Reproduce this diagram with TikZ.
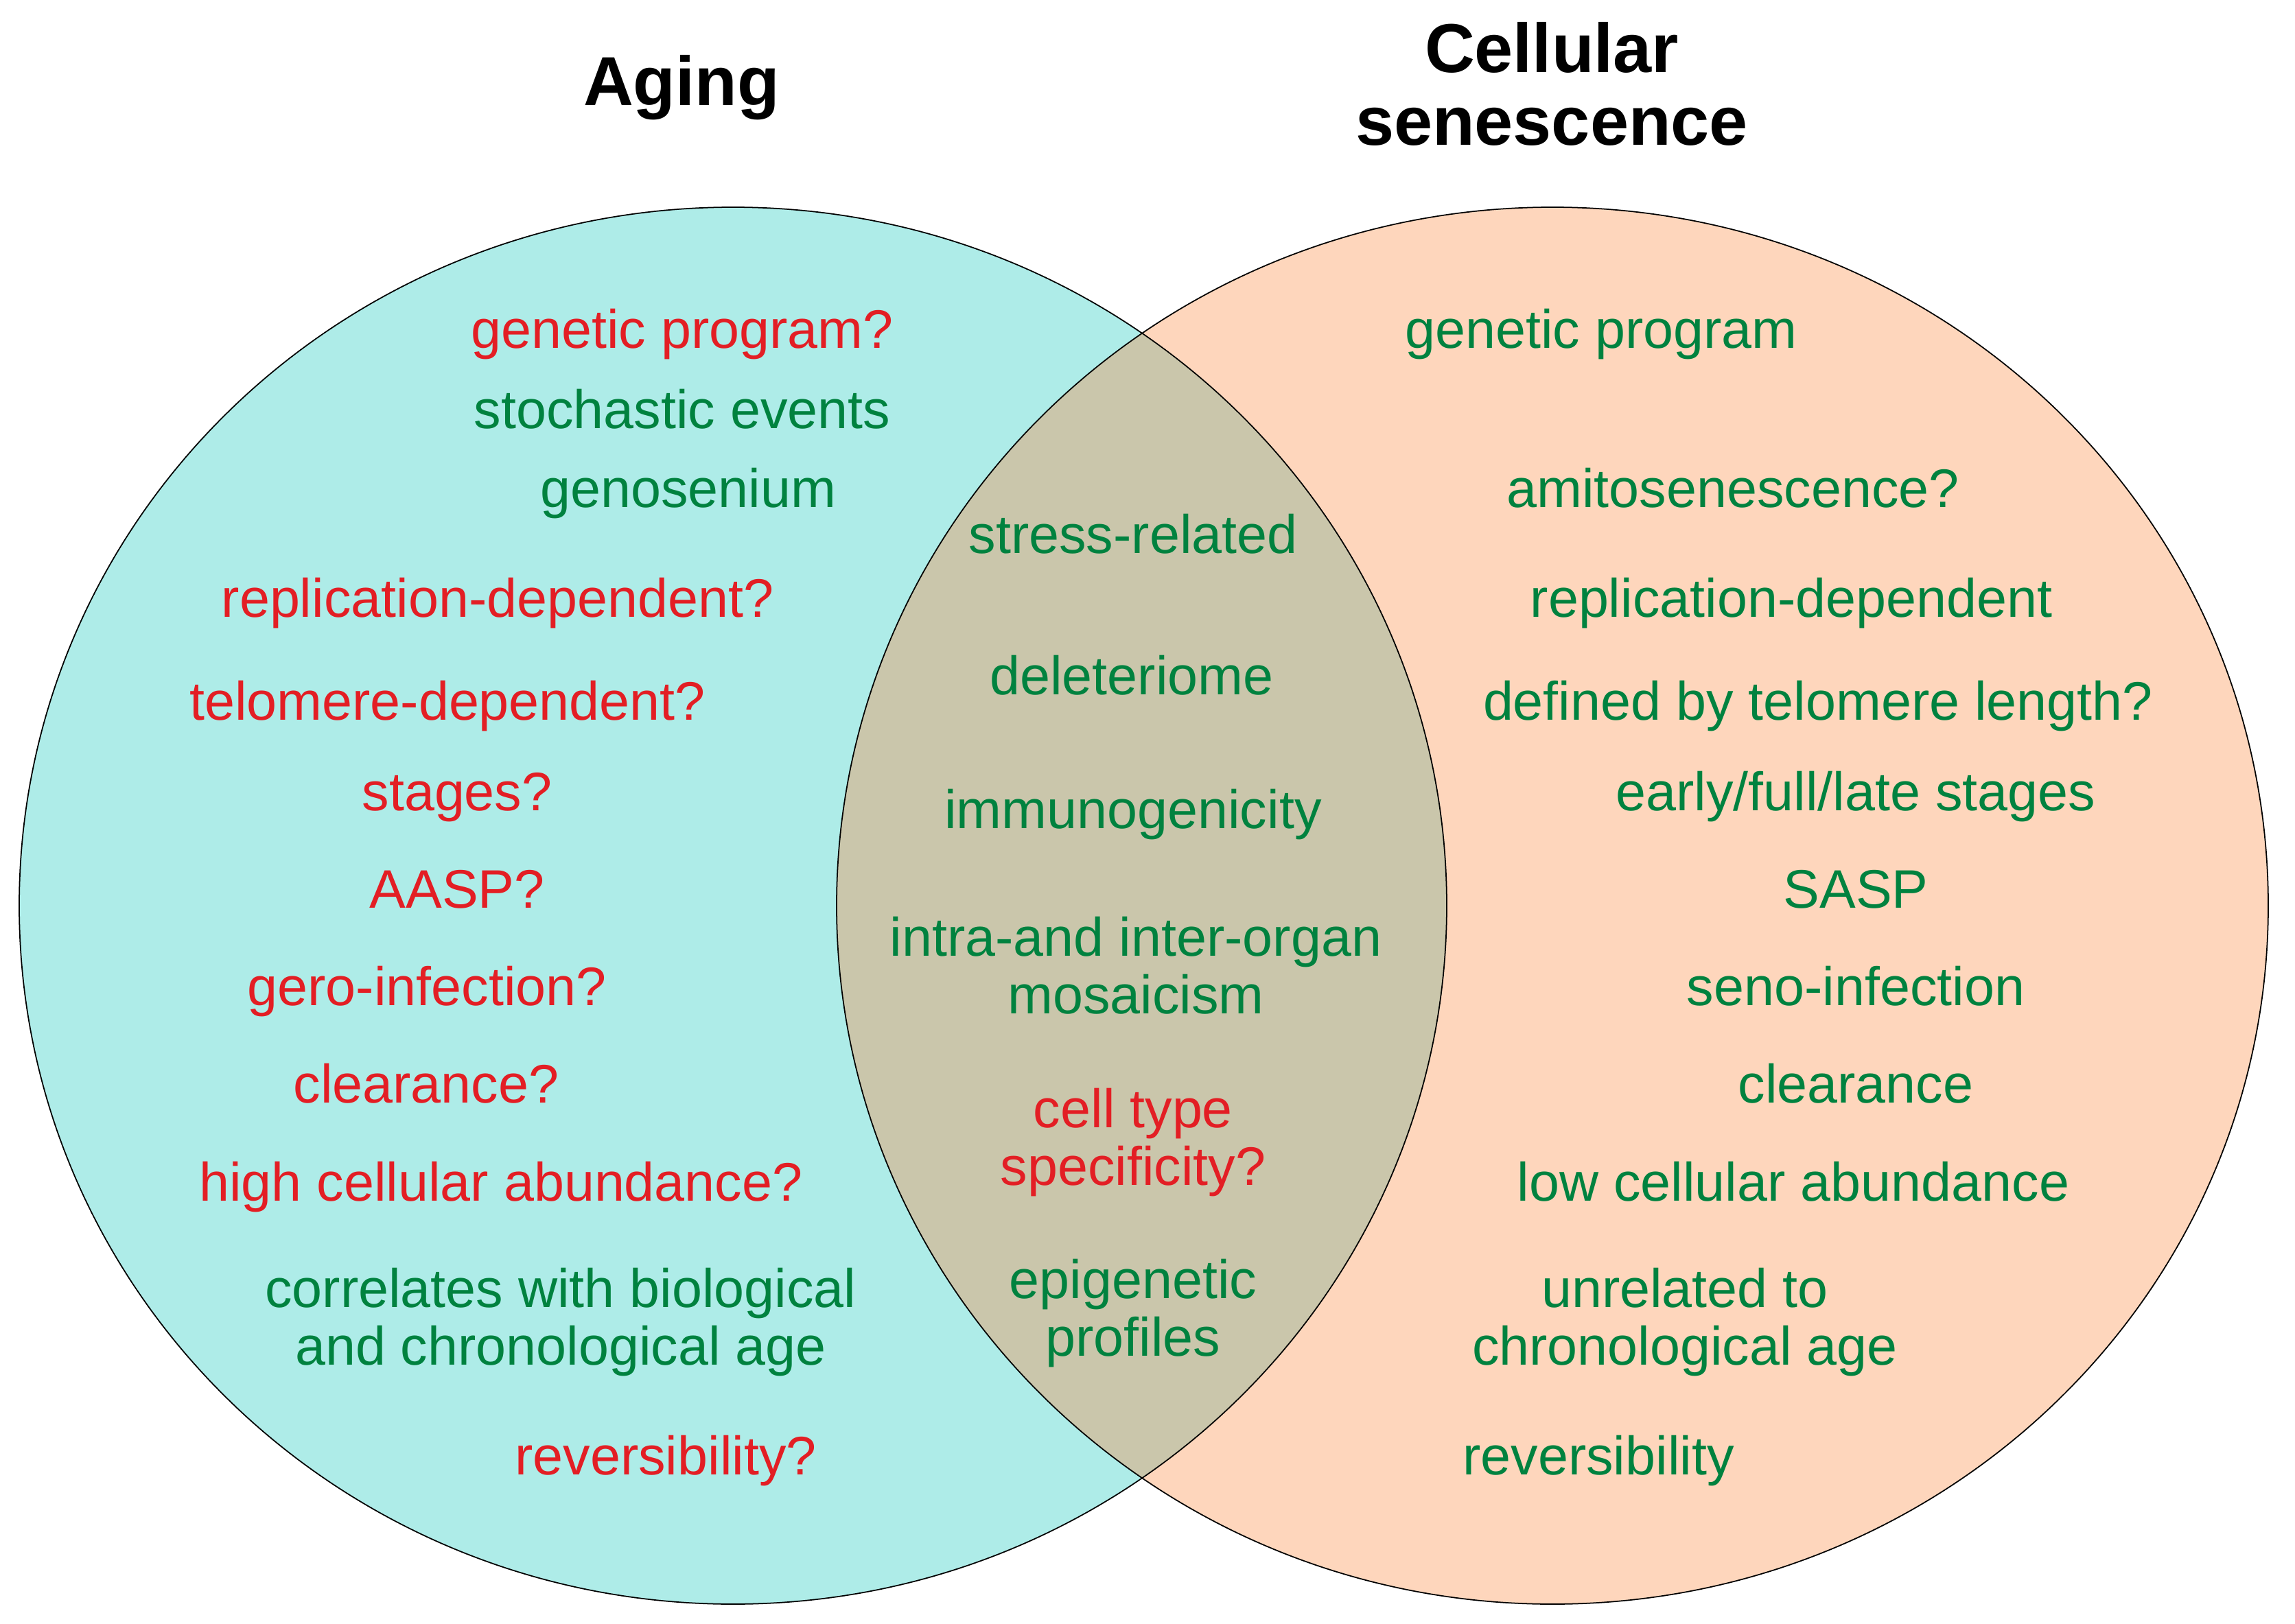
\documentclass[tikz,border=0pt]{standalone}
\usepackage[RGB]{xcolor}
\usepackage{fontspec}
\setmainfont{Liberation Sans}
\usepackage{tikz}
\definecolor{agefill}{RGB}{174,236,232}
\definecolor{senfill}{RGB}{254,214,188}
\definecolor{bothfill}{RGB}{202,198,171}
\definecolor{unsure}{RGB}{227,30,36}
\definecolor{sure}{RGB}{0,130,63}
\newcommand{\agepath}{(10.68,-13.20) ellipse [x radius=10.40, y radius=10.18]}
\newcommand{\senpath}{(22.62,-13.20) ellipse [x radius=10.43, y radius=10.18]}
\tikzset{
  item/.style={inner sep=0pt, anchor=base, align=center, font=\fontsize{22.5}{23.8}\selectfont},
  redtext/.style={item, text=unsure},
  greentext/.style={item, text=sure},
  heading/.style={inner sep=0pt, anchor=base, align=center, font=\fontsize{28.7}{29.9}\selectfont\bfseries}
}

\begin{document}
\begin{tikzpicture}
\useasboundingbox (0,0) rectangle (33.44,-23.67);
\fill[agefill] \agepath;
\fill[senfill] \senpath;
\begin{scope}
  \clip \agepath;
  \fill[bothfill] \senpath;
\end{scope}
\draw[line width=0.5pt] \agepath;
\draw[line width=0.5pt] \senpath;
% headings
\node[heading] (aging) at (9.93,-1.53) {Aging};
\node[heading] (senescence) at (22.61,-2.11) {Cellular\\senescence};
% aging only
\node[redtext] (agegenetic) at (9.94,-5.07) {genetic program?};
\node[greentext] (agestochastic) at (9.94,-6.24) {stochastic events};
\node[greentext] (agegenosenium) at (10.03,-7.39) {genosenium};
\node[redtext] (agereplication) at (7.25,-8.99) {replication-dependent?};
\node[redtext] (agetelomere) at (6.52,-10.49) {telomere-dependent?};
\node[redtext] (agestages) at (6.66,-11.81) {stages?};
\node[redtext] (ageaasp) at (6.66,-13.23) {AASP?};
\node[redtext] (ageinfection) at (6.22,-14.65) {gero-infection?};
\node[redtext] (ageclearance) at (6.21,-16.07) {clearance?};
\node[redtext] (ageabundance) at (7.30,-17.50) {high cellular abundance?};
\node[greentext] (agecorrelates) at (8.17,-19.89) {correlates with biological\\and chronological age};
\node[redtext] (agereversible) at (9.70,-21.49) {reversibility?};
% shared
\node[greentext] (bothstress) at (16.51,-8.06) {stress-related};
\node[greentext] (bothdeleteriome) at (16.49,-10.12) {deleteriome};
\node[greentext] (bothimmuno) at (16.51,-12.07) {immunogenicity};
\node[greentext] (bothmosaic) at (16.55,-14.77) {intra-and inter-organ\\mosaicism};
\node[redtext] (bothcelltype) at (16.51,-17.27) {cell type\\specificity?};
\node[greentext] (bothepigenetic) at (16.51,-19.76) {epigenetic\\profiles};
% senescence only
\node[greentext] (sengenetic) at (23.33,-5.07) {genetic program};
\node[greentext] (senamitosis) at (25.25,-7.39) {amitosenescence?};
\node[greentext] (senreplication) at (26.10,-8.99) {replication-dependent};
\node[greentext] (sentelomere) at (26.49,-10.49) {defined by telomere length?};
\node[greentext] (senstages) at (27.04,-11.81) {early/full/late stages};
\node[greentext] (sensasp) at (27.04,-13.23) {SASP};
\node[greentext] (seninfection) at (27.04,-14.65) {seno-infection};
\node[greentext] (senclearance) at (27.04,-16.07) {clearance};
\node[greentext] (senabundance) at (26.13,-17.50) {low cellular abundance};
\node[greentext] (senunrelated) at (24.55,-19.89) {unrelated to\\chronological age};
\node[greentext] (senreversible) at (23.29,-21.49) {reversibility};
\end{tikzpicture}
\end{document}
